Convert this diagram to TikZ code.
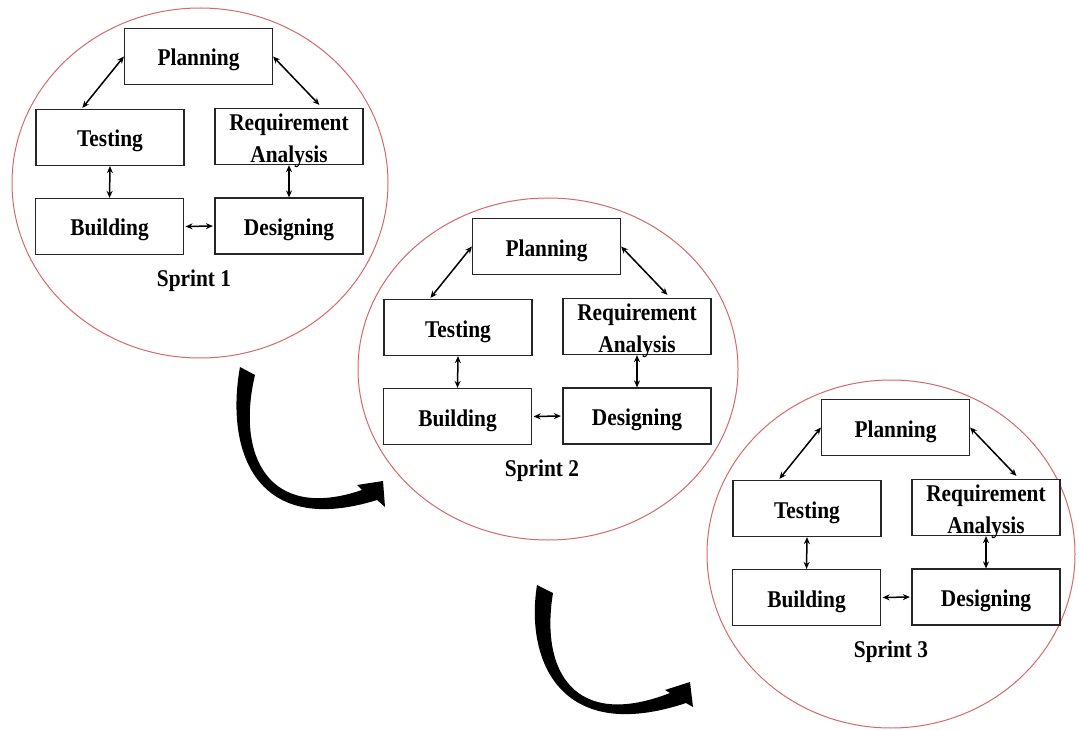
\documentclass[tikz,border=0pt]{standalone}
\usepackage{fontspec}
\setmainfont{Liberation Serif}
\usetikzlibrary{arrows.meta,calc}
\definecolor{ringred}{RGB}{212,105,105}
\newcommand{\nt}[1]{\scalebox{0.89}[1]{#1}}
\begin{document}
\begin{tikzpicture}[x=1pt,y=-1pt,
  stage/.style={draw=black!85, line width=1.2pt, fill=white, minimum width=148pt,
    minimum height=56pt, inner sep=0pt, text height=19pt, text depth=0pt,
    font=\bfseries\fontsize{24}{32}\selectfont},
  lbl/.style={font=\bfseries\fontsize{24}{32}\selectfont, inner sep=0pt},
  link/.style={{Stealth[length=7pt,width=6pt]}-{Stealth[length=7pt,width=6pt]}, line width=1.5pt},
  ring/.style={draw=ringred, line width=1pt},
  bigarrow/.style={fill=black}]
\useasboundingbox (0,0) rectangle (1079,730);

\foreach \s/\dx/\dy/\cx/\cy/\rx/\ry in {1/0/0/200/183/188/175, 2/348/190/200/179/190/171, 3/697/371/194/183/184/174} {
  \begin{scope}[shift={(\dx,\dy)}]
    \draw[ring] (\cx,\cy) ellipse [x radius=\rx, y radius=\ry];
    \node[stage] (p\s) at (198.5,56.5) {\nt{Planning}};
    \node[stage] (t\s) at (110,137.5) {\nt{Testing}};
    \node[stage] (r\s) at (289,136.5) {};
    \node[lbl, align=center] (rt\s) at (289,141) {\nt{Requirement}\\\nt{Analysis}};
    \node[stage] (b\s) at (109.5,226.5) {\nt{Building}};
    \node[stage] (d\s) at (289,226) {\nt{Designing}};
    \node[lbl, anchor=base] (s\s) at (194,286) {\nt{Sprint \s}};
    \draw[link] (p\s.west) -- ($(t\s.north west)+(47,-1)$);
    \draw[link] (p\s.east) -- ($(r\s.north west)+(105,-3)$);
    \draw[link] (t\s.south) -- (b\s.north);
    \draw[link] (r\s.south) -- (d\s.north);
    \draw[link, shorten <=1.5pt, shorten >=1.5pt] (b\s.east) -- (d\s.west);
  \end{scope}
}

\fill[bigarrow] (240,367) .. controls (225,450) and (255,538) .. (377,500)
  -- (385,507) -- (383,481) -- (357,485) -- (362,490)
  .. controls (268,522) and (236,455) .. (255,375) -- cycle;
\fill[bigarrow] (537,585) .. controls (525,660) and (560,745) .. (686,703)
  -- (693,707) -- (690,682) -- (665,690) -- (670,693)
  .. controls (575,730) and (540,672) .. (553,593) -- cycle;
\end{tikzpicture}
\end{document}
